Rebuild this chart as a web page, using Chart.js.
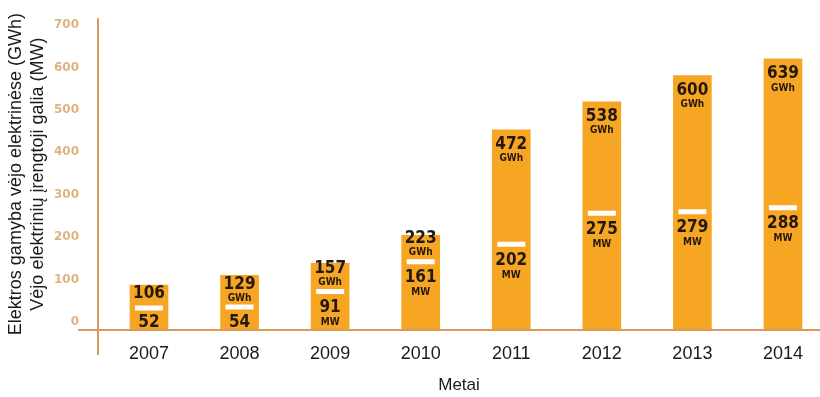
<!DOCTYPE html>
<html>
<head>
<meta charset="utf-8">
<script src="https://cdn.jsdelivr.net/npm/chart.js@4/dist/chart.umd.min.js"></script>
<style>
    html, body { margin: 0; padding: 0; background: #ffffff; }
    #chart-wrap { position: relative; width: 820px; height: 397px; }
</style>
</head>
<body>
<div id="chart-wrap"><canvas id="wind-chart"></canvas></div>
<script>
// ==============================
// Data
// ==============================
const years = [2007, 2008, 2009, 2010, 2011, 2012, 2013, 2014];
const generationGwh = [106, 129, 157, 223, 472, 538, 600, 639];
const capacityMw = [52, 54, 91, 161, 202, 275, 279, 288];
const showGwhUnit = [false, true, true, true, true, true, true, true];
const showMwUnit = [false, false, true, true, true, true, true, true];
const yTickValues = [0, 100, 200, 300, 400, 500, 600, 700];

// ==============================
// Colours
// ==============================
const barColor = "#f6a623";
const axisColor = "#d99a5e";
const labelColor = "#24180f";

// ==============================
// Plugins
// ==============================

// axis lines that cross at the origin, like the original
const axisLines = {
    id: "axisLines",
    afterDatasetsDraw(chart) {
        const ctx = chart.ctx;
        const area = chart.chartArea;
        ctx.save();
        ctx.strokeStyle = axisColor;
        ctx.lineWidth = 2;
        ctx.beginPath();
        ctx.moveTo(area.left - 20, area.bottom);
        ctx.lineTo(chart.width, area.bottom);
        ctx.moveTo(area.left, area.top);
        ctx.lineTo(area.left, area.bottom + 25);
        ctx.stroke();
        ctx.restore();
    }
};

// values written inside the bars
const barLabels = {
    id: "barLabels",
    afterDatasetsDraw(chart) {
        const ctx = chart.ctx;
        const bars = chart.getDatasetMeta(1).data;
        const marks = chart.getDatasetMeta(0).data;
        ctx.save();
        ctx.fillStyle = labelColor;
        ctx.textAlign = "center";
        ctx.textBaseline = "middle";

        bars.forEach(function (bar, i) {
            const mark = marks[i];
            // keep the GWh text above the white marker on short bars
            const gap = showGwhUnit[i] ? 23 : 14;
            const numberY = Math.min(bar.y + 15, mark.y - gap);
            ctx.font = "bold 17px 'DejaVu Sans Condensed'";
            ctx.fillText(generationGwh[i], bar.x, numberY);
            if (showGwhUnit[i]) {
                ctx.font = "bold 10px 'DejaVu Sans Condensed'";
                ctx.fillText("GWh", bar.x, numberY + 14);
            }
        });

        marks.forEach(function (mark, i) {
            const offset = showMwUnit[i] ? 16 : 15;
            ctx.font = "bold 17px 'DejaVu Sans Condensed'";
            ctx.fillText(capacityMw[i], mark.x, mark.y + offset);
            if (showMwUnit[i]) {
                ctx.font = "bold 10px 'DejaVu Sans Condensed'";
                ctx.fillText("MW", mark.x, mark.y + offset + 15);
            }
        });
        ctx.restore();
    }
};

// ==============================
// Create Chart
// ==============================
const chartCanvas = document.getElementById("wind-chart");

new Chart(chartCanvas, {
    type: "bar",
    data: {
        datasets: [
            {
                type: "line",
                label: "MW",
                data: years.map(function (year, i) { return { x: year, y: capacityMw[i] }; }),
                showLine: false,
                pointStyle: "line",
                pointRadius: 14,
                pointBorderWidth: 5,
                pointBorderColor: "#ffffff",
                order: 0
            },
            {
                label: "GWh",
                data: years.map(function (year, i) { return { x: year, y: generationGwh[i] }; }),
                backgroundColor: barColor,
                barThickness: 38,
                order: 1
            }
        ]
    },
    options: {
        responsive: true,
        maintainAspectRatio: false,
        animation: false,
        layout: {
            autoPadding: false,
            padding: { top: 15, left: 0, right: 0, bottom: 0 }
        },
        plugins: {
            legend: { display: false },
            tooltip: { enabled: false }
        },
        scales: {
            x: {
                type: "linear",
                offset: false,
                min: 2006.437,
                max: 2014.409,
                grid: { display: false },
                border: { display: false },
                afterBuildTicks: function (scale) {
                    scale.ticks = years.map(function (y) { return { value: y }; });
                },
                afterFit: function (scale) {
                    scale.height = 67;
                    scale.paddingLeft = 0;
                    scale.paddingRight = 0;
                },
                ticks: {
                    padding: 5,
                    color: "#1a1a1a",
                    font: { family: "'Liberation Sans', Arial", size: 18 },
                    callback: function (value) { return String(value); }
                },
                title: {
                    display: true,
                    text: "Metai",
                    color: "#1a1a1a",
                    font: { family: "'Liberation Sans', Arial", size: 17 },
                    padding: { top: 0, bottom: 1 }
                }
            },
            y: {
                min: 0,
                max: 735,
                grid: { display: false },
                border: { display: false },
                afterBuildTicks: function (scale) {
                    scale.ticks = yTickValues.map(function (v) { return { value: v }; });
                },
                afterFit: function (scale) { scale.width = 98; },
                ticks: {
                    padding: 11,
                    labelOffset: -8,
                    color: "#e0b27f",
                    font: { family: "'DejaVu Sans'", size: 12, weight: "bold" }
                },
                title: {
                    display: true,
                    text: ["Elektros gamyba vėjo elektrinėse (GWh)", "Vėjo elektrinių įrengtoji galia (MW)"],
                    color: "#1a1a1a",
                    font: { family: "'Liberation Sans', Arial", size: 18, lineHeight: 1.17 },
                    padding: { top: 6, bottom: 0 }
                }
            }
        }
    },
    plugins: [axisLines, barLabels]
});
</script>
</body>
</html>
